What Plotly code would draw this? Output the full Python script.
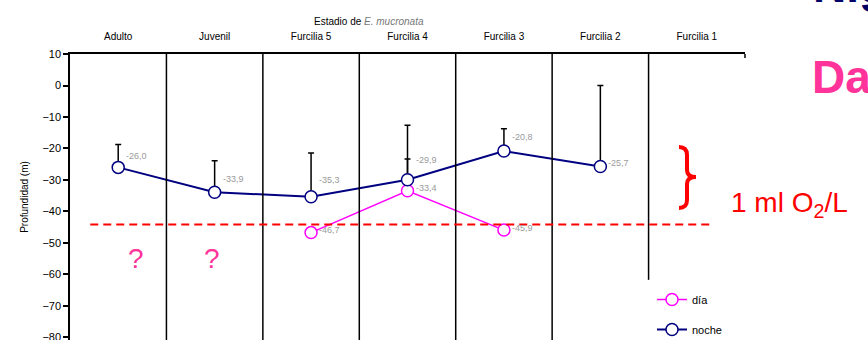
import plotly.graph_objects as go

# Developmental stages of E. mucronata
stages = ["Adulto", "Juvenil", "Furcilia 5", "Furcilia 4", "Furcilia 3", "Furcilia 2", "Furcilia 1"]

# Mean depth (m) by night and by day; None where no data
noche = [-26.0, -33.9, -35.3, -29.9, -20.8, -25.7, None]
noche_err = [7.3, 10.0, 13.9, 17.3, 7.1, 25.7, 0]
dia = [None, None, -46.7, -33.4, -45.9, None, None]
dia_err = [0, 0, 0, 10.1, 0, 0, 0]

# Depth of the 1 ml O2/L oxycline
oxycline = -44.1

y_ticks = [10, 0, -10, -20, -30, -40, -50, -60, -70, -80]

NAVY = "#000080"
MAGENTA = "#FF00FF"
RED = "#FF0000"
FONT = "Liberation Sans, Arial, sans-serif"

W, H = 868, 340
L, R, T, B = 70, 123, 54, 0
PW, PH = W - L - R, H - T - B


def px(x):
    return (x - L) / PW


def py(y):
    return (H - B - y) / PH


def fmt(v):
    return f"{v:.1f}".replace(".", ",")


xs = list(range(len(stages)))

fig = go.Figure()

fig.add_trace(go.Scatter(
    x=xs, y=dia, name="día", mode="lines+markers", legendgroup="dia",
    line=dict(color=MAGENTA, width=1.5),
    marker=dict(symbol="circle", size=12, color="white", line=dict(color=MAGENTA, width=1.5)),
    error_y=dict(type="data", array=dia_err, arrayminus=[0] * len(dia_err),
                 color="black", thickness=1.5, width=3),
    connectgaps=False,
))
fig.add_trace(go.Scatter(
    x=xs, y=noche, name="noche", mode="lines+markers", legendgroup="noche",
    line=dict(color=NAVY, width=2),
    marker=dict(symbol="circle", size=12, color="white", line=dict(color=NAVY, width=1.5)),
    error_y=dict(type="data", array=noche_err, arrayminus=[0] * len(noche_err),
                 color="black", thickness=1.5, width=3),
))

# Stage separators
shapes = []
for i in range(len(stages) - 1):
    bottom = -61.7 if i == len(stages) - 2 else -81
    shapes.append(dict(type="line", xref="x", yref="y", x0=i + 0.5, x1=i + 0.5,
                       y0=bottom, y1=10, line=dict(color="black", width=1.5)))
# Small end tick on the top frame line
shapes.append(dict(type="line", xref="paper", yref="paper", x0=1, x1=1,
                   y0=1, y1=1 - 4 / PH, line=dict(color="black", width=1.5)))
# Oxycline
shapes.append(dict(type="line", xref="x", yref="y", x0=-0.29, x1=6.14,
                   y0=oxycline, y1=oxycline,
                   line=dict(color=RED, width=2, dash="8px,5px")))

# Curly brace marking the night-time depth band above the oxycline
brace_pts = [
    ("M", (679, 147)), ("Q", (687, 147), (687, 155)), ("L", (687, 170)),
    ("Q", (687, 177), (696, 177)), ("Q", (687, 177), (687, 184)),
    ("L", (687, 200)), ("Q", (687, 208), (679, 208)),
]
path = ""
for cmd, *pts in brace_pts:
    path += cmd + " " + " ".join(f"{px(a):.5f},{py(b):.5f}" for a, b in pts) + " "
shapes.append(dict(type="path", xref="paper", yref="paper", path=path.strip(),
                   line=dict(color=RED, width=4)))

annotations = []

# Value labels
noche_shift = [11, 13, 17, 20, 14, 3, 0]
dia_shift = [0, 0, 3, 3, 2, 0, 0]
for i, v in enumerate(noche):
    if v is not None:
        annotations.append(dict(x=i, y=v, xref="x", yref="y", text=fmt(v), showarrow=False,
                                xanchor="left", yanchor="middle", xshift=6, yshift=noche_shift[i],
                                font=dict(family=FONT, size=9, color="#9a9a9a")))
for i, v in enumerate(dia):
    if v is not None:
        annotations.append(dict(x=i, y=v, xref="x", yref="y", text=fmt(v), showarrow=False,
                                xanchor="left", yanchor="middle", xshift=6, yshift=dia_shift[i],
                                font=dict(family=FONT, size=9, color="#9a9a9a")))

# Unknown daytime depth for adults and juveniles
for xq in (0.18, 0.97):
    annotations.append(dict(x=xq, y=-54.8, xref="x", yref="y", text="?", showarrow=False,
                            font=dict(family=FONT, size=28, color="#FF3399")))

# Header
annotations.append(dict(x=px(369), y=py(14), xref="paper", yref="paper", showarrow=False,
                        text="Estadio de <i><span style='color:#777777'>E. mucronata</span></i>",
                        font=dict(family=FONT, size=10, color="black")))

# Oxycline note
annotations.append(dict(x=px(729), y=py(205), xref="paper", yref="paper", showarrow=False,
                        xanchor="left", yanchor="middle",
                        text="1 ml O<sub>2</sub>/L", font=dict(family=FONT, size=28, color=RED)))

# Side titles, running off the right edge
annotations.append(dict(x=px(811), y=py(-14), xref="paper", yref="paper", showarrow=False,
                        xanchor="left", yanchor="middle",
                        text="<b>Night</b>", font=dict(family=FONT, size=46, color="#000066")))
annotations.append(dict(x=px(810), y=py(77), xref="paper", yref="paper", showarrow=False,
                        xanchor="left", yanchor="middle",
                        text="<b>Day</b>", font=dict(family=FONT, size=46, color="#FF3399")))

fig.update_layout(
    width=W, height=H,
    margin=dict(l=L, r=R, t=T, b=B, autoexpand=False),
    paper_bgcolor="white", plot_bgcolor="white",
    font=dict(family=FONT, color="black"),
    showlegend=True,
    legend=dict(x=px(652), y=py(285), xanchor="left", yanchor="top",
                bgcolor="rgba(0,0,0,0)", font=dict(family=FONT, size=11, color="black"),
                tracegroupgap=11, itemwidth=30),
    shapes=shapes,
    annotations=annotations,
)

fig.update_xaxes(
    range=[-0.5, len(stages) - 0.5], side="top",
    tickmode="array", tickvals=xs, ticktext=stages,
    ticks="", showgrid=False, zeroline=False,
    showline=True, linecolor="black", linewidth=1.5,
    tickfont=dict(family=FONT, size=10, color="black"),
    ticklabelstandoff=8, fixedrange=True, automargin=False,
)
fig.update_yaxes(
    range=[-80.8, 10], tickmode="array", tickvals=y_ticks,
    ticks="outside", ticklen=5, tickwidth=1.5, tickcolor="black",
    showgrid=False, zeroline=False,
    showline=True, linecolor="black", linewidth=1.5,
    tickfont=dict(family=FONT, size=11, color="black"),
    ticklabeloverflow="allow",
    title=dict(text="Profundidad (m)", font=dict(family=FONT, size=10, color="black"), standoff=12),
    fixedrange=True, automargin=False,
)

fig.write_html("out.html")
